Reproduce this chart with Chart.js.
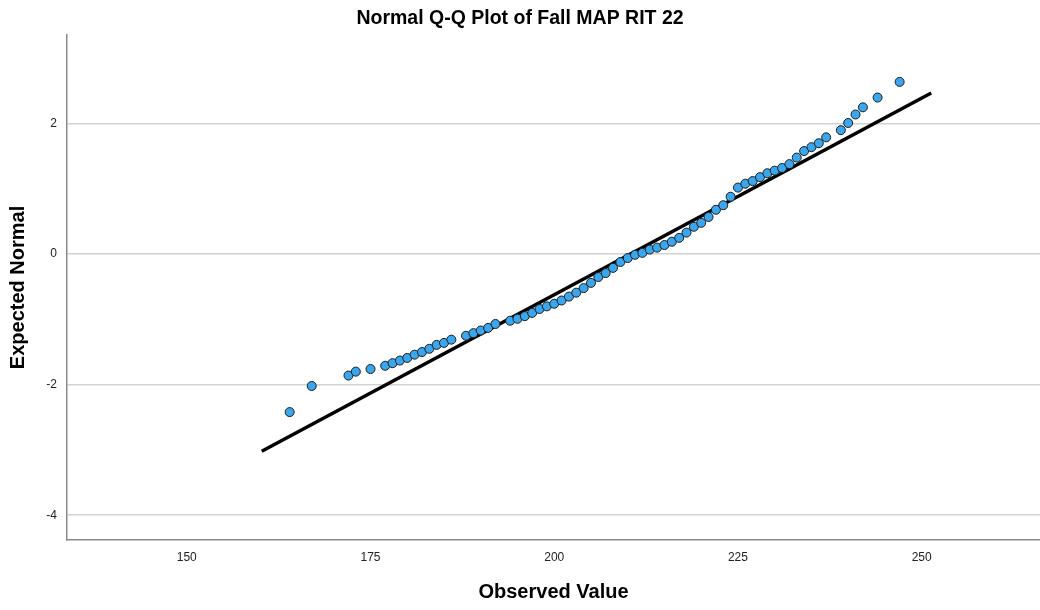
<!DOCTYPE html>
<html>
<head>
<meta charset="utf-8">
<script src="https://cdn.jsdelivr.net/npm/chart.js@4.4.1/dist/chart.umd.min.js"></script>
<style>
html,body{margin:0;padding:0;background:#fff;}
canvas{display:block;}
</style>
</head>
<body>
<canvas id="c" width="1040" height="610"></canvas>
<script>
// Observed values (x) and expected normal quantiles (y)
const observed = [164,167,172,173,175,177,178,179,180,181,182,183,184,185,186,188,189,190,191,192,
  194,195,196,197,198,199,200,201,202,203,204,205,206,207,208,209,210,211,212,213,214,215,216,217,
  218,219,220,221,222,223,224,225,226,227,228,229,230,231,232,233,234,235,236,237,239,240,241,242,244,247];
const expected = [-2.42,-2.02,-1.86,-1.80,-1.76,-1.71,-1.67,-1.63,-1.59,-1.54,-1.50,-1.45,-1.39,-1.36,-1.31,
  -1.25,-1.21,-1.17,-1.13,-1.07,-1.02,-0.99,-0.95,-0.90,-0.84,-0.80,-0.76,-0.71,-0.65,-0.59,-0.52,-0.44,
  -0.35,-0.29,-0.21,-0.12,-0.06,-0.01,0.02,0.07,0.10,0.14,0.19,0.25,0.33,0.42,0.48,0.57,0.68,0.75,0.88,
  1.02,1.08,1.12,1.18,1.24,1.28,1.32,1.38,1.48,1.58,1.64,1.70,1.79,1.90,2.01,2.14,2.25,2.40,2.64];
// Reference line endpoints
const lineX = [160.2, 251.3];
const lineY = [-3.02, 2.47];
// Tick labels
const xTicks = [150,175,200,225,250];
const yTicks = [-4,-2,0,2];

const points = observed.map((v,i)=>({x:v,y:expected[i]}));
const linePts = lineX.map((v,i)=>({x:v,y:lineY[i]}));
const FONT = "'Liberation Sans', Arial, sans-serif";

new Chart(document.getElementById('c'), {
  type: 'scatter',
  data: {
    datasets: [
      {
        data: points,
        backgroundColor: '#3aa6ee',
        borderColor: '#1c1c1c',
        borderWidth: 1,
        pointRadius: 4.5,
        pointHoverRadius: 4.5,
        order: 0
      },
      {
        type: 'line',
        data: linePts,
        borderColor: '#000',
        borderWidth: 3.5,
        pointRadius: 0,
        fill: false,
        order: 1
      }
    ]
  },
  options: {
    responsive: false,
    devicePixelRatio: 1,
    animation: false,
    layout: {autoPadding: false, padding: {left: 0, right: 0, top: 0, bottom: 0}},
    plugins: {
      legend: {display: false},
      tooltip: {enabled: false},
      title: {
        display: true,
        text: 'Normal Q-Q Plot of Fall MAP RIT 22',
        color: '#000',
        font: {family: FONT, size: 19.5, weight: 'bold'},
        padding: {top: 6.5, bottom: 5}
      }
    },
    scales: {
      x: {
        type: 'linear',
        min: 133.7,
        max: 266.1,
        afterBuildTicks: s => { s.ticks = xTicks.map(v => ({value: v})); },
        afterFit: s => { s.height = 70; s.paddingLeft = 0; s.paddingRight = 0; },
        grid: {display: false, drawTicks: false},
        border: {display: true, color: '#8a8a8a', width: 1.5},
        ticks: {color: '#222', font: {family: FONT, size: 12}, padding: 10, maxRotation: 0},
        title: {
          display: true,
          text: 'Observed Value',
          color: '#000',
          font: {family: FONT, size: 20, weight: 'bold'},
          padding: {top: 0, bottom: 6}
        }
      },
      y: {
        type: 'linear',
        min: -4.38,
        max: 3.36,
        afterBuildTicks: s => { s.ticks = yTicks.map(v => ({value: v})); },
        afterFit: s => { s.width = 67; s.paddingTop = 0; s.paddingBottom = 0; },
        grid: {display: true, drawTicks: false, color: '#d2d2d2', lineWidth: 1.5},
        border: {display: true, color: '#8a8a8a', width: 1.5},
        ticks: {color: '#222', font: {family: FONT, size: 12}, padding: 10},
        title: {
          display: true,
          text: 'Expected Normal',
          color: '#000',
          font: {family: FONT, size: 20, weight: 'bold'},
          padding: {top: 6, bottom: 0}
        }
      }
    }
  }
});
</script>
</body>
</html>
